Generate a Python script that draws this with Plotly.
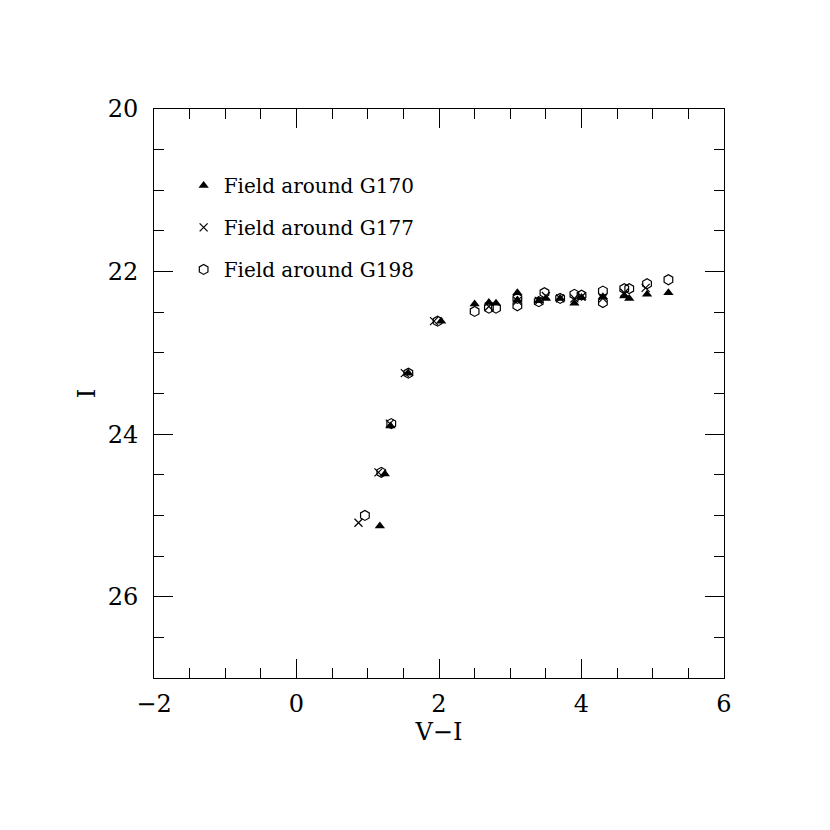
import plotly.graph_objects as go

# G170 field (filled triangles)
g170_vi = [1.17, 1.24, 1.32, 1.57, 2.03, 2.50, 2.70, 2.80, 3.10, 3.10, 3.40, 3.50, 3.70, 3.90, 4.00, 4.30, 4.60, 4.67, 4.92, 5.22]
g170_i = [25.13, 24.49, 23.90, 23.25, 22.61, 22.40, 22.38, 22.39, 22.26, 22.35, 22.36, 22.33, 22.33, 22.39, 22.32, 22.31, 22.30, 22.33, 22.28, 22.26]

# G177 field (crosses)
g177_vi = [0.87, 1.15, 1.31, 1.52, 1.93, 2.70, 3.10, 3.40, 3.50, 3.70, 3.90, 4.00, 4.30, 4.60, 4.90]
g177_i = [25.09, 24.47, 23.87, 23.25, 22.61, 22.43, 22.36, 22.36, 22.30, 22.33, 22.33, 22.31, 22.33, 22.26, 22.20]

# G198 field (open hexagons)
g198_vi = [0.96, 1.19, 1.33, 1.57, 1.98, 2.50, 2.70, 2.80, 3.10, 3.10, 3.40, 3.48, 3.70, 3.90, 4.00, 4.30, 4.30, 4.60, 4.67, 4.92, 5.22]
g198_i = [25.00, 24.47, 23.87, 23.25, 22.61, 22.49, 22.45, 22.45, 22.33, 22.42, 22.37, 22.26, 22.33, 22.28, 22.29, 22.24, 22.38, 22.21, 22.21, 22.15, 22.10]

font = "DejaVu Serif, Liberation Serif, serif"

fig = go.Figure()
fig.add_trace(go.Scatter(x=g170_vi, y=g170_i, mode="markers", name="Field around G170",
                         legendgroup="a",
                         marker=dict(symbol="triangle-up", size=9, color="black")))
fig.add_trace(go.Scatter(x=g177_vi, y=g177_i, mode="markers", name="Field around G177",
                         legendgroup="b",
                         marker=dict(symbol="x-thin-open", size=8, color="black",
                                     line=dict(width=1.2, color="black"))))
fig.add_trace(go.Scatter(x=g198_vi, y=g198_i, mode="markers", name="Field around G198",
                         legendgroup="c",
                         marker=dict(symbol="hexagon-open", size=10, color="black",
                                     line=dict(width=1.2, color="black"))))

axis_common = dict(
    showgrid=False, zeroline=False, showline=True, linecolor="black", linewidth=1,
    mirror="ticks", ticks="inside", ticklen=19, tickcolor="black", tickwidth=1,
    tickfont=dict(family=font, size=24, color="black"),
    minor=dict(ticks="inside", ticklen=10, dtick=0.5, tickcolor="black", tickwidth=1, showgrid=False),
)

fig.update_xaxes(range=[-2, 6], dtick=2, tick0=0, ticklabelstandoff=4,
                 title=dict(text="V−I", font=dict(family=font, size=24, color="black"), standoff=6),
                 **axis_common)
fig.update_yaxes(range=[27, 20], dtick=2, tick0=20, ticklabelstandoff=10,
                 title=dict(text="I", font=dict(family=font, size=24, color="black"), standoff=5),
                 **axis_common)

fig.update_layout(
    width=830, height=830,
    margin=dict(l=146, r=114, t=101, b=160),
    plot_bgcolor="white", paper_bgcolor="white",
    showlegend=True,
    legend=dict(x=0.052, y=0.90, xanchor="left", yanchor="top",
                bgcolor="rgba(0,0,0,0)", tracegroupgap=13,
                font=dict(family=font, size=20, color="black")),
)

fig.write_html("out.html")
